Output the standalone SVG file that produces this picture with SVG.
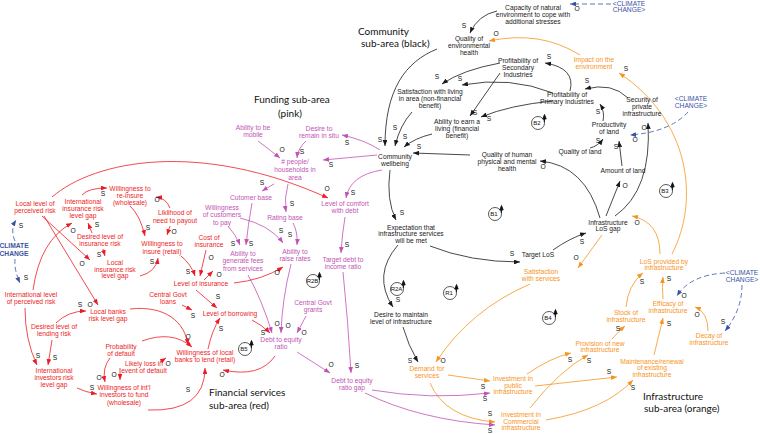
<svg xmlns="http://www.w3.org/2000/svg" width="760" height="434" viewBox="0 0 760 434">
<style>
text{font-family:"Liberation Sans",Arial,sans-serif;font-size:6.7px;text-anchor:middle}
.k{fill:#1a1a1a}.o{fill:#f7941d}.p{fill:#c153b5}.r{fill:#ed1c24}.b{fill:#3953a4}
.sec{font-family:Lato,"Liberation Sans",sans-serif;font-size:10px;text-anchor:start;fill:#111}
.pol{fill:#111;font-size:7px}
.lk{fill:none;stroke:#1a1a1a;stroke-width:0.8;marker-end:url(#mk)}
.lo{fill:none;stroke:#f7941d;stroke-width:0.8;marker-end:url(#mo)}
.lp{fill:none;stroke:#c153b5;stroke-width:0.8;marker-end:url(#mp)}
.lr{fill:none;stroke:#ed1c24;stroke-width:0.8;marker-end:url(#mr)}
.lb{fill:none;stroke:#3953a4;stroke-width:0.8;stroke-dasharray:5 3;marker-end:url(#mb)}
.loop circle{fill:none;stroke:#111;stroke-width:0.7}
.loop text{font-size:6px;fill:#111}
.loop path{stroke:#111;stroke-width:0.9;fill:#111}
.bold{font-weight:bold}
</style>
<defs>
<marker id="mk" viewBox="0 0 10 8" refX="10" refY="4" markerWidth="6" markerHeight="4.8" markerUnits="userSpaceOnUse" orient="auto"><path d="M0,0L10,4L0,8z" fill="#1a1a1a"/></marker>
<marker id="mo" viewBox="0 0 10 8" refX="10" refY="4" markerWidth="6" markerHeight="4.8" markerUnits="userSpaceOnUse" orient="auto"><path d="M0,0L10,4L0,8z" fill="#f7941d"/></marker>
<marker id="mp" viewBox="0 0 10 8" refX="10" refY="4" markerWidth="6" markerHeight="4.8" markerUnits="userSpaceOnUse" orient="auto"><path d="M0,0L10,4L0,8z" fill="#c153b5"/></marker>
<marker id="mr" viewBox="0 0 10 8" refX="10" refY="4" markerWidth="6" markerHeight="4.8" markerUnits="userSpaceOnUse" orient="auto"><path d="M0,0L10,4L0,8z" fill="#ed1c24"/></marker>
<marker id="mb" viewBox="0 0 10 8" refX="10" refY="4" markerWidth="6" markerHeight="4.8" markerUnits="userSpaceOnUse" orient="auto"><path d="M0,0L10,4L0,8z" fill="#3953a4"/></marker>
</defs>
<rect width="760" height="434" fill="#fff"/>

<g id="sections">
<text class="sec" x="358" y="35">Community</text>
<text class="sec" x="361" y="47">sub-area (black)</text>
<text class="sec" x="254" y="103">Funding sub-area</text>
<text class="sec" x="278" y="117">(pink)</text>
<text class="sec" x="209" y="396">Financial services</text>
<text class="sec" x="209" y="409">sub-area (red)</text>
<text class="sec" x="643" y="400">Infrastructure</text>
<text class="sec" x="644" y="412">sub-area (orange)</text>
</g>

<g id="connectors">
<!-- black -->
<path class="lk" d="M497,11 Q478,15 470,33"/>
<path class="lk" d="M437,49 C405,62 385,90 385,146"/>
<path class="lk" d="M412,112 Q400,125 395,146"/>
<path class="lk" d="M432,134 Q415,138 404,147"/>
<path class="lk" d="M470,155 L413,153"/>
<path class="lk" d="M500,63 Q462,70 442,84"/>
<path class="lk" d="M553,93 Q510,76 462,85"/>
<path class="lk" d="M500,73 L470,116"/>
<path class="lk" d="M553,101 Q510,105 481,117"/>
<path class="lk" d="M570,91 Q576,68 545,63"/>
<path class="lk" d="M628,98 Q612,82 585,89"/>
<path class="lk" d="M603,121 Q605,112 600,104"/>
<path class="lk" d="M590,148 Q598,146 603,139"/>
<path class="lk" d="M622,166 L619,141"/>
<path class="lk" d="M606,216 L620,181"/>
<path class="lk" d="M615,216 Q652,190 648,123"/>
<path class="lk" d="M600,218 Q585,165 540,161"/>
<path class="lk" d="M390,170 Q386,200 396,220"/>
<path class="lk" d="M430,246 Q470,262 520,262"/>
<path class="lk" d="M553,250 Q570,238 586,233"/>
<path class="lk" d="M398,245 Q372,275 393,307"/>
<path class="lk" d="M403,327 Q408,345 418,362"/>
<!-- orange -->
<path class="lo" d="M580,55 Q540,30 489,41"/>
<path class="lo" d="M672,254 C700,200 690,120 619,73"/>
<path class="lo" d="M660,254 Q660,222 632,216"/>
<path class="lo" d="M602,235 L578,268"/>
<path class="lo" d="M530,284 Q470,310 436,362"/>
<path class="lo" d="M448,375 L490,381"/>
<path class="lo" d="M430,383 Q445,418 495,422"/>
<path class="lo" d="M527,374 Q550,358 571,353"/>
<path class="lo" d="M530,408 Q560,370 588,355"/>
<path class="lo" d="M535,386 L617,377"/>
<path class="lo" d="M546,420 Q605,410 633,380"/>
<path class="lo" d="M612,339 Q618,332 625,326"/>
<path class="lo" d="M654,355 L663,318"/>
<path class="lo" d="M708,331 Q708,312 695,307"/>
<path class="lo" d="M663,299 Q662,287 663,277"/>
<path class="lo" d="M626,307 Q628,285 643,273"/>
<!-- blue -->
<path class="lb" d="M611,4 L570,4"/>
<path class="lb" d="M688,112 Q670,132 630,135"/>
<path class="lb" d="M725,273 Q690,275 677,296"/>
<path class="lb" d="M742,285 Q742,310 725,331"/>
<path class="lb" d="M15,241 Q10,230 16,220"/>
<path class="lb" d="M15,259 Q14,270 20,283"/>
<!-- pink -->
<path class="lp" d="M377,155 L323,160"/>
<path class="lp" d="M380,150 Q365,140 342,135"/>
<path class="lp" d="M382,170 Q350,175 346,198"/>
<path class="lp" d="M258,141 Q270,150 280,158"/>
<path class="lp" d="M306,141 Q298,148 297,158"/>
<path class="lp" d="M274,184 L262,191"/>
<path class="lp" d="M288,184 Q284,198 286,212"/>
<path class="lp" d="M252,203 Q248,225 246,245"/>
<path class="lp" d="M228,226 Q236,235 240,245"/>
<path class="lp" d="M240,218 Q270,225 283,243"/>
<path class="lp" d="M293,223 Q298,232 297,245"/>
<path class="lp" d="M345,217 Q342,235 341,253"/>
<path class="lp" d="M343,272 Q348,320 351,373"/>
<path class="lp" d="M297,352 L330,373"/>
<path class="lp" d="M248,275 Q262,300 272,333"/>
<path class="lp" d="M291,264 Q282,300 281,333"/>
<path class="lp" d="M306,316 L297,333"/>
<path class="lp" d="M372,390 Q430,400 490,393"/>
<path class="lp" d="M365,393 Q420,420 495,425"/>
<!-- red -->
<path class="lr" d="M52,197 C95,160 200,140 328,198"/>
<path class="lr" d="M42,216 L90,260"/>
<path class="lr" d="M44,216 L98,305"/>
<path class="lr" d="M56,323 Q68,311 86,311"/>
<path class="lr" d="M130,309 C165,305 185,322 188,345"/>
<path class="lr" d="M33,290 Q40,240 72,223"/>
<path class="lr" d="M142,341 Q172,330 192,347"/>
<path class="lr" d="M25,308 Q25,340 37,365"/>
<path class="lr" d="M52,340 L48,365"/>
<path class="lr" d="M77,388 Q85,392 97,394"/>
<path class="lr" d="M110,358 Q102,368 105,382"/>
<path class="lr" d="M120,368 L120,380"/>
<path class="lr" d="M160,362 L166,358"/>
<path class="lr" d="M148,410 Q205,412 205,368"/>
<path class="lr" d="M208,349 Q212,330 220,318"/>
<path class="lr" d="M182,305 L192,310"/>
<path class="lr" d="M196,290 L217,308"/>
<path class="lr" d="M275,356 Q260,378 223,370"/>
<path class="lr" d="M252,320 Q262,325 270,333"/>
<path class="lr" d="M234,283 Q262,280 283,267"/>
<path class="lr" d="M130,206 Q140,215 145,236"/>
<path class="lr" d="M170,226 L167,235"/>
<path class="lr" d="M170,208 Q166,198 156,197"/>
<path class="lr" d="M82,195 Q88,188 107,188"/>
<path class="lr" d="M92,233 L88,223"/>
<path class="lr" d="M103,249 L105,256"/>
<path class="lr" d="M140,276 Q156,272 158,258"/>
<path class="lr" d="M181,256 Q191,264 195,276"/>
<path class="lr" d="M206,250 L200,276"/>
<path class="lr" d="M204,280 L213,271"/>
</g>

<g id="polarity" class="pol">
<text x="464" y="28">S</text><text x="577" y="11">O</text>
<text x="496" y="36">O</text><text x="437" y="79">S</text><text x="460" y="81">S</text>
<text x="549" y="59">S</text><text x="475" y="115">S</text><text x="489" y="121">S</text>
<text x="587" y="83">S</text><text x="598" y="114">S</text><text x="598" y="143">S</text>
<text x="616" y="149">S</text><text x="635" y="142">O</text><text x="644" y="130">O</text>
<text x="625" y="188">O</text><text x="543" y="169">O</text><text x="419" y="149">S</text>
<text x="380" y="142">S</text><text x="395" y="130">S</text><text x="405" y="139">S</text>
<text x="402" y="215">S</text><text x="512" y="256">S</text><text x="582" y="244">S</text>
<text x="398" y="302">S</text><text x="410" y="363">S</text><text x="443" y="363">O</text>
<text x="576" y="260">O</text><text x="637" y="225">O</text><text x="626" y="71">S</text>
<text x="483" y="389">S</text><text x="490" y="416">S</text><text x="485" y="401">S</text>
<text x="490" y="433">S</text><text x="570" y="362">S</text><text x="589" y="363">S</text>
<text x="609" y="374">S</text><text x="633" y="390">S</text><text x="618" y="331">S</text>
<text x="669" y="326">S</text><text x="697" y="317">O</text><text x="723" y="324">S</text>
<text x="684" y="298">O</text><text x="669" y="281">S</text><text x="642" y="284">S</text>
<text x="331" y="167">S</text><text x="347" y="145">S</text><text x="353" y="195">S</text>
<text x="282" y="152">O</text><text x="302" y="154">S</text><text x="262" y="185">S</text>
<text x="292" y="206">S</text><text x="251" y="246">S</text><text x="233" y="246">S</text>
<text x="281" y="233">S</text><text x="290" y="237">S</text><text x="347" y="247">S</text>
<text x="357" y="368">S</text><text x="331" y="367">O</text><text x="277" y="326">O</text>
<text x="288" y="328">O</text><text x="304" y="335">O</text><text x="263" y="335">S</text>
<text x="222" y="377">O</text><text x="327" y="191">O</text><text x="82" y="266">O</text>
<text x="90" y="307">O</text><text x="80" y="307">S</text><text x="188" y="339">O</text>
<text x="73" y="233">O</text><text x="38" y="358">S</text><text x="55" y="360">S</text>
<text x="92" y="390">S</text><text x="99" y="380">O</text><text x="114" y="377">O</text>
<text x="168" y="366">O</text><text x="188" y="392">S</text><text x="221" y="331">S</text>
<text x="193" y="318">S</text><text x="218" y="299">S</text><text x="277" y="275">O</text>
<text x="148" y="230">S</text><text x="174" y="234">O</text><text x="157" y="202">O</text>
<text x="103" y="196">S</text><text x="97" y="227">S</text><text x="99" y="257">S</text>
<text x="152" y="264">S</text><text x="188" y="274">S</text><text x="211" y="260">O</text>
<text x="219" y="277">O</text><text x="21" y="228">S</text><text x="26" y="280">S</text>
</g>

<g id="loops">
<g class="loop" id="loop-B2"><circle cx="538" cy="123" r="6.5"/><text x="537" y="125">B2</text><path d="M544.5,122 L544.5,116 M542.8,119 L544.5,114.5 L546.2,119z"/></g>
<g class="loop" id="loop-B1"><circle cx="495" cy="214" r="6.5"/><text x="494" y="216">B1</text><path d="M501.5,213 L501.5,207 M499.8,210 L501.5,205.5 L503.2,210z"/></g>
<g class="loop" id="loop-B3"><circle cx="666" cy="191" r="6.5"/><text x="665" y="193">B3</text><path d="M672.5,190 L672.5,184 M670.8,187 L672.5,182.5 L674.2,187z"/></g>
<g class="loop" id="loop-R1"><circle cx="450" cy="293" r="6.5"/><text x="449" y="295">R1</text><path d="M456.5,292 L456.5,286 M454.8,289 L456.5,284.5 L458.2,289z"/></g>
<g class="loop" id="loop-R2A"><circle cx="397" cy="289" r="6.5"/><text x="396.5" y="291">R2A</text><path d="M403.5,288 L403.5,282 M401.8,285 L403.5,280.5 L405.2,285z"/></g>
<g class="loop" id="loop-R2B"><circle cx="313" cy="281" r="6.5"/><text x="312.5" y="283">R2B</text><path d="M319.5,280 L319.5,274 M317.8,277 L319.5,272.5 L321.2,277z"/></g>
<g class="loop" id="loop-B4"><circle cx="549" cy="318" r="6.5"/><text x="548" y="320">B4</text><path d="M555.5,317 L555.5,311 M553.8,314 L555.5,309.5 L557.2,314z"/></g>
<g class="loop" id="loop-B5"><circle cx="245" cy="349" r="6.5"/><text x="244" y="351">B5</text><path d="M251.5,348 L251.5,342 M249.8,345 L251.5,340.5 L253.2,345z"/></g>
</g>

<!-- black nodes -->
<g id="n-capacity"><text class="k" x="533" y="10">Capacity of natural<tspan x="533" dy="7">environment to cope with</tspan><tspan x="533" dy="7">additional stresses</tspan></text></g>
<g id="n-qeh"><text class="k" x="469" y="41">Quality of<tspan x="469" dy="7">environmental</tspan><tspan x="469" dy="7">health</tspan></text></g>
<g id="n-psi"><text class="k" x="518" y="63">Profitability of<tspan x="518" dy="7">Secondary</tspan><tspan x="518" dy="7">Industries</tspan></text></g>
<g id="n-satliving"><text class="k" x="430" y="94">Satisfaction with living<tspan x="430" dy="7">in area (non-financial</tspan><tspan x="430" dy="7">benefit)</tspan></text></g>
<g id="n-earn"><text class="k" x="457" y="124">Ability to earn a<tspan x="457" dy="7">living (financial</tspan><tspan x="457" dy="7">benefit)</tspan></text></g>
<g id="n-ppi"><text class="k" x="567" y="97">Profitability of<tspan x="567" dy="7">Primary Industries</tspan></text></g>
<g id="n-security"><text class="k" x="642" y="102">Security of<tspan x="642" dy="7">private</tspan><tspan x="642" dy="7">infrastructure</tspan></text></g>
<g id="n-productivity"><text class="k" x="609" y="127">Productivity<tspan x="609" dy="7">of land</tspan></text></g>
<g id="n-qland"><text class="k" x="580" y="154">Quality of land</text></g>
<g id="n-amount"><text class="k" x="623" y="173">Amount of land</text></g>
<g id="n-qhh"><text class="k" x="507" y="157">Quality of human<tspan x="507" dy="7">physical and mental</tspan><tspan x="507" dy="7">health</tspan></text></g>
<g id="n-cw"><text class="k" x="395" y="159">Community<tspan x="395" dy="7">wellbeing</tspan></text></g>
<g id="n-expect"><text class="k" x="411" y="229.5">Expectation that<tspan x="411" dy="6.8">infrastructure services</tspan><tspan x="411" dy="6.8">will be met</tspan></text></g>
<g id="n-target"><text class="k" x="538" y="257">Target LoS</text></g>
<g id="n-losgap"><text class="k" x="608" y="224.5">Infrastructure<tspan x="608" dy="6.8">LoS gap</tspan></text></g>
<g id="n-desire"><text class="k" x="401" y="317">Desire to maintain<tspan x="401" dy="7">level of infrastructure</tspan></text></g>

<!-- orange nodes -->
<g id="n-impact"><text class="o" x="594" y="62">Impact on the<tspan x="594" dy="7">environment</tspan></text></g>
<g id="n-losprov"><text class="o" x="664" y="263.5">LoS provided by<tspan x="664" dy="6.8">infrastructure</tspan></text></g>
<g id="n-satserv"><text class="o" x="541" y="274">Satisfaction<tspan x="541" dy="7">with services</tspan></text></g>
<g id="n-efficacy"><text class="o" x="668" y="306">Efficacy of<tspan x="668" dy="7">infrastructure</tspan></text></g>
<g id="n-stock"><text class="o" x="626" y="315">Stock of<tspan x="626" dy="7">infrastructure</tspan></text></g>
<g id="n-decay"><text class="o" x="709" y="338">Decay of<tspan x="709" dy="7">infrastructure</tspan></text></g>
<g id="n-provision"><text class="o" x="600" y="345.5">Provision of new<tspan x="600" dy="6.8">infrastructure</tspan></text></g>
<g id="n-maint"><text class="o" x="652" y="363.5">Maintenance/renewal<tspan x="652" dy="6.6">of existing</tspan><tspan x="652" dy="6.6">infrastructure</tspan></text></g>
<g id="n-demand"><text class="o" x="427" y="371">Demand for<tspan x="427" dy="7">services</tspan></text></g>
<g id="n-invpub"><text class="o" x="513" y="381">Investment in<tspan x="513" dy="6.7">public</tspan><tspan x="513" dy="6.7">infrastructure</tspan></text></g>
<g id="n-invcom"><text class="o" x="521" y="417">Investment in<tspan x="521" dy="6.7">Commercial</tspan><tspan x="521" dy="6.7">infrastructure</tspan></text></g>

<!-- blue nodes -->
<g id="n-cc-top"><text class="b" x="629" y="5.5">&lt;CLIMATE<tspan x="629" dy="6.6">CHANGE&gt;</tspan></text></g>
<g id="n-cc-mid"><text class="b" x="691" y="101">&lt;CLIMATE<tspan x="691" dy="7">CHANGE&gt;</tspan></text></g>
<g id="n-cc-low"><text class="b" x="742" y="275">&lt;CLIMATE<tspan x="742" dy="7">CHANGE&gt;</tspan></text></g>
<g id="n-cc-left"><text class="b bold" x="14" y="248">CLIMATE<tspan x="14" dy="7.5">CHANGE</tspan></text></g>

<!-- pink nodes -->
<g id="n-mobile"><text class="p" x="253" y="130">Ability to be<tspan x="253" dy="7">mobile</tspan></text></g>
<g id="n-remain"><text class="p" x="319" y="131">Desire to<tspan x="319" dy="7">remain in situ</tspan></text></g>
<g id="n-people"><text class="p" x="295" y="164">#  people/<tspan x="295" dy="8">households in</tspan><tspan x="295" dy="7.7">area</tspan></text></g>
<g id="n-customer"><text class="p" x="251" y="200">Cutomer base</text></g>
<g id="n-rating"><text class="p" x="285" y="220">Rating base</text></g>
<g id="n-comfort"><text class="p" x="345" y="206">Level of comfort<tspan x="345" dy="7">with debt</tspan></text></g>
<g id="n-willcust"><text class="p" x="222" y="210">Willingness<tspan x="222" dy="7.3">of customers</tspan><tspan x="222" dy="7.3">to pay</tspan></text></g>
<g id="n-fees"><text class="p" x="243" y="256">Ability to<tspan x="243" dy="7.3">generate fees</tspan><tspan x="243" dy="7.3">from services</tspan></text></g>
<g id="n-rates"><text class="p" x="295" y="254">Ability to<tspan x="295" dy="6.7">raise rates</tspan></text></g>
<g id="n-targetdebt"><text class="p" x="343" y="262">Target debt to<tspan x="343" dy="7">income ratio</tspan></text></g>
<g id="n-grants"><text class="p" x="313" y="305">Central Govt<tspan x="313" dy="7">grants</tspan></text></g>
<g id="n-debtequity"><text class="p" x="281" y="342">Debt to equity<tspan x="281" dy="7">ratio</tspan></text></g>
<g id="n-ratiogap"><text class="p" x="352" y="383">Debt to equity<tspan x="352" dy="7">ratio gap</tspan></text></g>

<!-- red nodes -->
<g id="n-localrisk"><text class="r" x="35" y="206">Local level of<tspan x="35" dy="7">perceived risk</tspan></text></g>
<g id="n-intlinsgap"><text class="r" x="83" y="204">International<tspan x="83" dy="7">insurance risk</tspan><tspan x="83" dy="7">level gap</tspan></text></g>
<g id="n-reinsure"><text class="r" x="130" y="191">Willingness to<tspan x="130" dy="7">re-insure</tspan><tspan x="130" dy="7">(wholesale)</tspan></text></g>
<g id="n-payout"><text class="r" x="175" y="215">Liklihood of<tspan x="175" dy="7.5">need to payout</tspan></text></g>
<g id="n-desins"><text class="r" x="100" y="239">Desired level of<tspan x="100" dy="7">insurance risk</tspan></text></g>
<g id="n-insure"><text class="r" x="162" y="246">Willingness to<tspan x="162" dy="7.5">insure (retail)</tspan></text></g>
<g id="n-localinsgap"><text class="r" x="115" y="265">Local<tspan x="115" dy="6.7">insurance risk</tspan><tspan x="115" dy="6.7">level gap</tspan></text></g>
<g id="n-cost"><text class="r" x="209" y="240">Cost of<tspan x="209" dy="7">insurance</tspan></text></g>
<g id="n-levelins"><text class="r" x="201" y="286">Level of insurance</text></g>
<g id="n-intlrisk"><text class="r" x="31" y="297">International level<tspan x="31" dy="7">of perceived risk</tspan></text></g>
<g id="n-banksgap"><text class="r" x="108" y="314">Local banks<tspan x="108" dy="7">risk level gap</tspan></text></g>
<g id="n-loans"><text class="r" x="168" y="297">Central Govt<tspan x="168" dy="7">loans</tspan></text></g>
<g id="n-deslend"><text class="r" x="54" y="329">Desired level of<tspan x="54" dy="7">lending risk</tspan></text></g>
<g id="n-borrowing"><text class="r" x="230" y="316">Level of borrowing</text></g>
<g id="n-default"><text class="r" x="121" y="349">Probability<tspan x="121" dy="7">of default</tspan></text></g>
<g id="n-lend"><text class="r" x="205" y="355">Willingness of local<tspan x="205" dy="7">banks to lend (retail)</tspan></text></g>
<g id="n-loss"><text class="r" x="144" y="366">Likely loss in<tspan x="144" dy="7">event of default</tspan></text></g>
<g id="n-invgap"><text class="r" x="54" y="373">International<tspan x="54" dy="7">investors risk</tspan><tspan x="54" dy="7">level gap</tspan></text></g>
<g id="n-intlfund"><text class="r" x="124" y="390">Willingness of int'l<tspan x="124" dy="7.3">investors to fund</tspan><tspan x="124" dy="7.3">(wholesale)</tspan></text></g>
</svg>
